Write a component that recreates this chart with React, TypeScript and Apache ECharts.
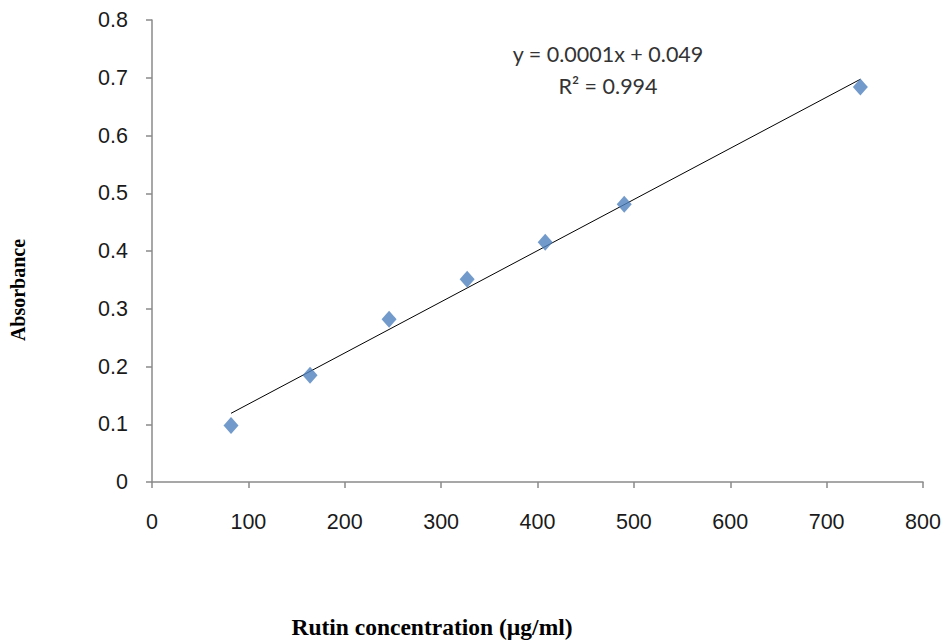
import React, { useEffect, useRef } from "react";
import * as echarts from "echarts";

const concentrations = [82, 164, 246, 327, 408, 490, 735];
const absorbances = [0.098, 0.185, 0.282, 0.351, 0.415, 0.481, 0.684];
const equationText = "y = 0.0001x + 0.049";
const r2Text = "R² = 0.994";
const xAxisTitle = "Rutin concentration (µg/ml)";
const yAxisTitle = "Absorbance";

function fitLine(xs: number[], ys: number[]) {
  const n = xs.length;
  const mx = xs.reduce((a, b) => a + b, 0) / n;
  const my = ys.reduce((a, b) => a + b, 0) / n;
  let sxy = 0;
  let sxx = 0;
  for (let i = 0; i < n; i++) {
    sxy += (xs[i] - mx) * (ys[i] - my);
    sxx += (xs[i] - mx) * (xs[i] - mx);
  }
  const slope = sxy / sxx;
  const intercept = my - slope * mx;
  return { slope, intercept };
}

export default function App() {
  const ref = useRef<HTMLDivElement>(null);
  useEffect(() => {
    if (!ref.current) return;
    const chart = echarts.init(ref.current, undefined, { renderer: "svg" });
    const { slope, intercept } = fitLine(concentrations, absorbances);
    const xMin = Math.min(...concentrations);
    const xMax = Math.max(...concentrations);
    const trend = [
      [xMin, slope * xMin + intercept],
      [xMax, slope * xMax + intercept],
    ];
    const axisColor = "#8a8a8a";
    const labelStyle = {
      fontFamily: "Liberation Sans, Arial, sans-serif",
      fontSize: 21.5,
      color: "#1a1a1a",
    };
    chart.setOption({
      animation: false,
      backgroundColor: "#ffffff",
      grid: { left: 152, top: 20, right: 22, bottom: 160 },
      xAxis: {
        type: "value",
        min: 0,
        max: 800,
        interval: 100,
        axisLine: { show: true, lineStyle: { color: axisColor, width: 1.5 } },
        axisTick: { show: true, inside: false, length: 6, lineStyle: { color: axisColor, width: 1.5 } },
        splitLine: { show: false },
        axisLabel: { ...labelStyle, margin: 29 },
      },
      yAxis: {
        type: "value",
        min: 0,
        max: 0.8,
        interval: 0.1,
        axisLine: { show: true, lineStyle: { color: axisColor, width: 1.5 } },
        axisTick: { show: true, inside: false, length: 6, lineStyle: { color: axisColor, width: 1.5 } },
        splitLine: { show: false },
        axisLabel: {
          ...labelStyle,
          margin: 24,
          formatter: (v: number) => (v === 0 ? "0" : v.toFixed(1)),
        },
      },
      series: [
        {
          type: "line",
          data: trend,
          symbol: "none",
          lineStyle: { color: "#000000", width: 1 },
          z: 2,
        },
        {
          type: "scatter",
          data: concentrations.map((x, i) => [x, absorbances[i]]),
          symbol: "diamond",
          symbolSize: [15, 17],
          itemStyle: { color: "#4f81bd" },
          z: 3,
        },
      ],
      graphic: [
        {
          type: "text",
          x: 608,
          y: 54,
          style: {
            text: equationText,
            fontFamily: "Lato, Carlito, sans-serif",
            fontSize: 21.5,
            fill: "#333333",
            align: "center",
            verticalAlign: "middle",
          },
        },
        {
          type: "text",
          x: 608,
          y: 86,
          style: {
            text: r2Text,
            fontFamily: "Lato, Carlito, sans-serif",
            fontSize: 21.5,
            fill: "#333333",
            align: "center",
            verticalAlign: "middle",
          },
        },
        {
          type: "text",
          x: 432,
          y: 627,
          style: {
            text: xAxisTitle,
            fontFamily: "Liberation Serif, Times New Roman, serif",
            fontWeight: "bold",
            fontSize: 23.5,
            fill: "#000000",
            align: "center",
            verticalAlign: "middle",
          },
        },
        {
          type: "text",
          x: 18,
          y: 290,
          rotation: Math.PI / 2,
          style: {
            text: yAxisTitle,
            fontFamily: "Liberation Serif, Times New Roman, serif",
            fontWeight: "bold",
            fontSize: 20,
            fill: "#000000",
            align: "center",
            verticalAlign: "middle",
          },
        },
      ],
    });
    return () => chart.dispose();
  }, []);
  return (
    <div
      ref={ref}
      style={{ position: "fixed", left: 0, top: 0, width: 945, height: 642 }}
    />
  );
}
